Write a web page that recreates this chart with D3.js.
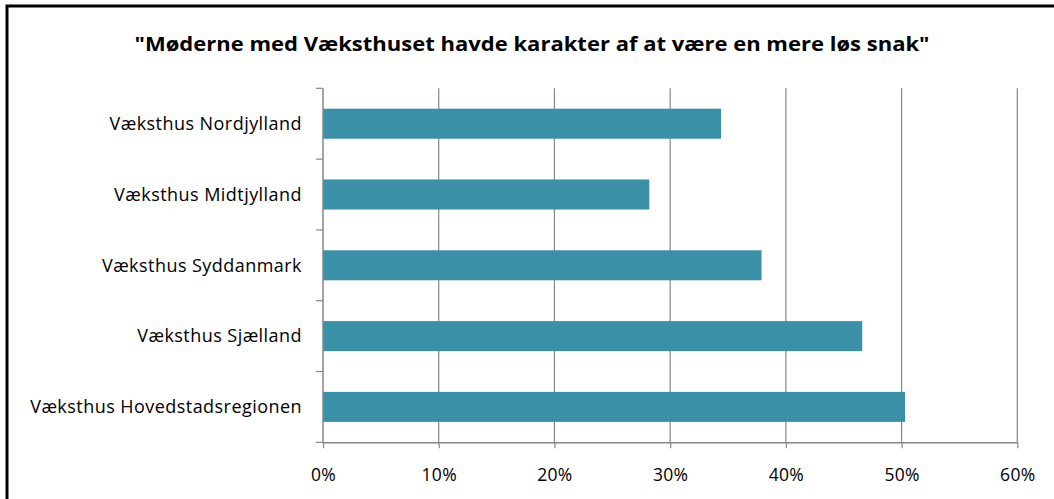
<!DOCTYPE html>
<html>
<head>
<meta charset="utf-8">
<script src="https://d3js.org/d3.v7.min.js"></script>
<style>
  body { margin: 0; background: #fff; overflow: hidden; }
  svg { display: block; }
  text { font-family: "Open Sans", Lato, sans-serif; fill: #000; }
</style>
</head>
<body>
<div id="graph"></div>

<script>

// Data
  var title = '"Møderne med Væksthuset havde karakter af at være en mere løs snak"'
  var regions = ['Væksthus Nordjylland', 'Væksthus Midtjylland', 'Væksthus Syddanmark',
                 'Væksthus Sjælland', 'Væksthus Hovedstadsregionen']
  var shares = [34.4, 28.2, 37.9, 46.6, 50.3]
  var xTicks = [0, 10, 20, 30, 40, 50, 60]

  var W = 1054, H = 499
  var margin = {top: 88.3, right: 36.7, bottom: 56.7, left: 323}
  var width = W - margin.left - margin.right,
      height = H - margin.top - margin.bottom

  var svg = d3.select('#graph')
      .append('svg')
      .attr('width', W)
      .attr('height', H)

// Chart frame (runs off the right and bottom edge)
  svg.append('rect')
    .attr('x', 7).attr('y', 6)
    .attr('width', W + 200).attr('height', H + 200)
    .attr('fill', 'white')
    .attr('stroke', 'black')
    .attr('stroke-width', 3)

// Title
  svg.append('text')
    .attr('x', 532)
    .attr('y', 51)
    .attr('text-anchor', 'middle')
    .attr('textLength', 795)
    .attr('lengthAdjust', 'spacingAndGlyphs')
    .style('font-size', '20px')
    .style('font-weight', 'bold')
    .text(title)

  var g = svg.append('g')
      .attr('transform', `translate(${margin.left}, ${margin.top})`)

  var x = d3.scaleLinear()
    .domain([0, 60])
    .range([0, width])

  var y = d3.scaleBand()
    .domain(regions)
    .range([0, height])
    .paddingInner(0.576)
    .paddingOuter(0.288)

// Gridlines
  g.append('g')
    .selectAll('line')
    .data(xTicks.slice(1))
    .join('line')
      .attr('x1', function(d) { return x(d) })
      .attr('x2', function(d) { return x(d) })
      .attr('y1', 0)
      .attr('y2', height)
      .attr('stroke', '#868686')
      .attr('stroke-width', 1.2)

// Bars
  g.append('g')
    .selectAll('rect')
    .data(shares)
    .join('rect')
      .attr('x', x(0))
      .attr('y', function(d, i) { return y(regions[i]) })
      .attr('width', function(d) { return x(d) - x(0) })
      .attr('height', y.bandwidth())
      .attr('fill', '#3A90A7')

// X axis
  var xAxis = g.append('g')
    .attr('transform', `translate(0, ${height})`)
    .call(d3.axisBottom(x).tickValues(xTicks)
      .tickFormat(function(d) { return d + '%' })
      .tickSize(6).tickPadding(20).tickSizeOuter(0))
  xAxis.select('.domain').attr('stroke', '#868686').attr('stroke-width', 1.5)
  xAxis.selectAll('line').attr('stroke', '#868686').attr('stroke-width', 1.2)
  xAxis.selectAll('text')
    .style('font-size', '17.5px')
    .style('letter-spacing', '0.3px')
    .style('font-family', '"Open Sans", sans-serif')

// Y axis: ticks between categories
  var step = y.step()
  var yAxis = g.append('g')
  yAxis.append('line')
    .attr('x1', 0).attr('x2', 0)
    .attr('y1', 0).attr('y2', height)
    .attr('stroke', '#868686').attr('stroke-width', 1.5)
  yAxis.selectAll('line.tick')
    .data(d3.range(regions.length + 1))
    .join('line')
      .attr('class', 'tick')
      .attr('x1', -7).attr('x2', 0)
      .attr('y1', function(d) { return d * step })
      .attr('y2', function(d) { return d * step })
      .attr('stroke', '#868686').attr('stroke-width', 1.2)

// Category labels
  g.append('g')
    .selectAll('text')
    .data(regions)
    .join('text')
      .attr('x', -21)
      .attr('y', function(d) { return y(d) + y.bandwidth() / 2 })
      .attr('dy', '0.35em')
      .attr('text-anchor', 'end')
      .style('font-size', '18px')
      .style('letter-spacing', '0.45px')
      .text(function(d) { return d })

</script>
</body>
</html>
